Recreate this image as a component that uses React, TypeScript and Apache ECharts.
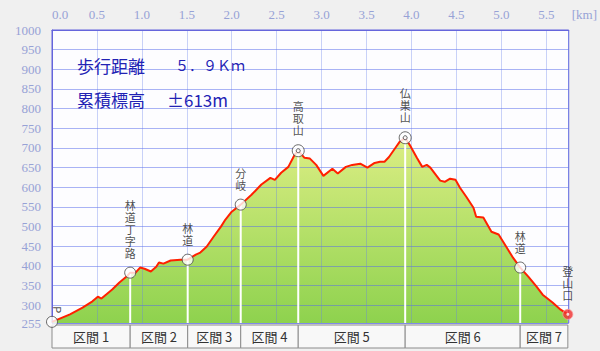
import React, { useEffect, useRef } from 'react';
import * as echarts from 'echarts';

// Elevation profile (distance in km, elevation in m)
const distKm = [0, 0.2, 0.34, 0.45, 0.51, 0.55, 0.6, 0.67, 0.75, 0.83, 0.87, 0.93, 0.98, 1.03, 1.1, 1.16, 1.19, 1.24, 1.32, 1.43, 1.51, 1.6, 1.65, 1.72, 1.8, 1.88, 1.93, 2.0, 2.1, 2.22, 2.33, 2.43, 2.48, 2.55, 2.63, 2.7, 2.74, 2.81, 2.87, 2.94, 3.02, 3.12, 3.18, 3.27, 3.34, 3.43, 3.51, 3.59, 3.65, 3.7, 3.75, 3.82, 3.87, 3.93, 3.98, 4.06, 4.12, 4.17, 4.21, 4.32, 4.37, 4.43, 4.49, 4.54, 4.61, 4.69, 4.72, 4.8, 4.89, 4.97, 5.06, 5.13, 5.21, 5.3, 5.39, 5.46, 5.57, 5.66, 5.74];
const elevM = [258, 277, 294, 310, 322, 317, 327, 340, 358, 373, 383, 383, 396, 393, 386, 398, 409, 406, 414, 416, 416, 429, 434, 449, 475, 500, 518, 538, 556, 581, 607, 624, 619, 637, 652, 683, 693, 675, 673, 657, 629, 647, 635, 652, 657, 660, 650, 662, 665, 665, 677, 700, 716, 726, 708, 675, 652, 657, 650, 617, 614, 622, 619, 599, 576, 548, 525, 523, 487, 480, 447, 421, 396, 373, 348, 327, 307, 289, 277];

// Waypoints
const wpNames = ['P', '林道丁字路', '林道', '分岐', '高取山', '仏巣山', '林道', '登山口'];
const wpKm = [0, 0.87, 1.51, 2.1, 2.74, 3.93, 5.21, 5.74];
const wpElev = [258, 383, 416, 556, 693, 726, 396, 277];
const wpKind = ['start', 'point', 'point', 'point', 'peak', 'peak', 'point', 'end'];

// Sections between waypoints
const sectionNames = ['区間 1', '区間 2', '区間 3', '区間 4', '区間 5', '区間 6', '区間 7'];

// Axis labels
const yLabelValues = [255, 300, 350, 400, 450, 500, 550, 600, 650, 700, 750, 800, 850, 900, 950, 1000];

// Summary text
const summaryLabels = ['歩行距離', '累積標高'];
const summaryValues = ['５．９Ｋｍ', '±613m'];

const JP = '"Noto Sans CJK JP", sans-serif';
const AXIS_FONT = '"Liberation Serif", serif';

export default function App() {
  const ref = useRef<HTMLDivElement>(null);

  useEffect(() => {
    document.body.style.margin = '0';
    const chart = echarts.init(ref.current!, null, { renderer: 'svg' });
    const profile = distKm.map((d, i) => [d, elevM[i]]);
    const axisColor = '#97a2d6';
    const borderBlue = '#6565dc';

    const wpData = wpKm.map((k, i) => {
      const kind = wpKind[i];
      const name = wpNames[i];
      return {
        value: [k, wpElev[i]],
        name,
        symbolSize: kind === 'peak' ? 12 : kind === 'end' ? 10 : 11,
        itemStyle:
          kind === 'end'
            ? { color: '#f23030', borderColor: '#f6a0a0', borderWidth: 1 }
            : { color: '#ffffff', borderColor: '#444444', borderWidth: 1 },
        label: {
          show: true,
          position: 'top',
          distance: kind === 'start' ? 6 : 8,
          rotate: kind === 'start' ? -90 : 0,
          fontSize: 11,
          lineHeight: 12,
          color: '#222222',
          fontFamily: JP,
          formatter: kind === 'start' ? name : name.split('').join('\n'),
        },
      };
    });
    const peakInner = wpKm
      .map((k, i) => [k, wpElev[i], i])
      .filter((d) => wpKind[d[2]] === 'peak')
      .map((d) => [d[0], d[1]]);
    const endInner = wpKm
      .map((k, i) => [k, wpElev[i], i])
      .filter((d) => wpKind[d[2]] === 'end')
      .map((d) => [d[0], d[1]]);
    const dropLines = wpKm
      .map((k, i) => [k, wpElev[i], i])
      .filter((d) => wpKind[d[2]] === 'point' || wpKind[d[2]] === 'peak')
      .map((d) => [d[0], d[1]]);
    const sections = sectionNames.map((n, i) => [wpKm[i], wpKm[i + 1], i]);

    const graphics: any[] = [];
    summaryLabels.forEach((t, i) => {
      const y = i === 0 ? 65 : 99;
      graphics.push({
        type: 'text',
        x: 77,
        y,
        z: 10,
        style: { text: t, fill: '#2222b4', font: `17px ${JP}`, align: 'left', verticalAlign: 'middle' },
      });
      graphics.push({
        type: 'text',
        x: i === 0 ? 175 : 167,
        y,
        z: 10,
        style: {
          text: summaryValues[i],
          fill: '#2222b4',
          font: i === 0 ? `14px ${JP}` : `17px ${JP}`,
          align: 'left',
          verticalAlign: 'middle',
        },
      });
    });

    chart.setOption({
      animation: false,
      backgroundColor: '#f0f0f0',
      grid: {
        left: 52,
        right: 27,
        top: 30,
        bottom: 28,
        show: true,
        backgroundColor: '#fdfdff',
        borderColor: borderBlue,
        borderWidth: 1,
      },
      xAxis: {
        type: 'value',
        position: 'top',
        min: 0,
        max: 5.75,
        interval: 0.5,
        z: 3,
        name: '[km]',
        nameLocation: 'end',
        nameGap: 3,
        nameTextStyle: {
          color: axisColor,
          fontFamily: AXIS_FONT,
          fontSize: 13,
          verticalAlign: 'bottom',
          padding: [0, 0, 9, 0],
        },
        axisLine: { show: true, lineStyle: { color: borderBlue } },
        axisTick: { show: false },
        axisLabel: {
          color: axisColor,
          fontFamily: AXIS_FONT,
          fontSize: 13,
          margin: 9,
          showMaxLabel: false,
          alignMinLabel: 'left',
          formatter: (v: number) => v.toFixed(1),
        },
        splitLine: { show: true, lineStyle: { color: 'rgba(100,125,235,0.35)', width: 1 } },
      },
      yAxis: {
        type: 'value',
        min: 255,
        max: 1000,
        z: 3,
        axisLine: { show: true, lineStyle: { color: borderBlue } },
        axisTick: { show: false, customValues: yLabelValues },
        axisLabel: {
          customValues: yLabelValues,
          color: axisColor,
          fontFamily: AXIS_FONT,
          fontSize: 13,
          margin: 11,
          formatter: (v: number) => String(Math.round(v)),
        },
        splitLine: { show: true, lineStyle: { color: 'rgba(85,105,235,0.5)', width: 1 } },
      },
      graphic: graphics,
      series: [
        {
          type: 'line',
          data: profile,
          symbol: 'none',
          silent: true,
          z: 1,
          lineStyle: { width: 0 },
          areaStyle: {
            opacity: 1,
            color: new echarts.graphic.LinearGradient(0, 0, 0, 1, [
              { offset: 0, color: '#dcee84' },
              { offset: 1, color: '#8ed24e' },
            ]),
          },
        },
        {
          type: 'custom',
          data: dropLines,
          z: 4,
          silent: true,
          renderItem: (params: any, api: any) => {
            const top = api.coord([api.value(0), api.value(1)]);
            const bot = api.coord([api.value(0), 255]);
            return {
              type: 'line',
              shape: { x1: top[0], y1: top[1], x2: bot[0], y2: bot[1] },
              style: { stroke: '#ffffff', lineWidth: 2 },
            };
          },
        },
        {
          type: 'line',
          data: profile,
          symbol: 'none',
          z: 5,
          lineStyle: { color: '#ff2000', width: 2 },
        },
        {
          type: 'scatter',
          data: wpData,
          z: 6,
          clip: false,
        },
        {
          type: 'scatter',
          data: peakInner,
          z: 7,
          symbolSize: 4,
          clip: false,
          itemStyle: { color: '#ffffff', borderColor: '#333333', borderWidth: 1 },
        },
        {
          type: 'scatter',
          data: endInner,
          z: 7,
          symbolSize: 3,
          clip: false,
          itemStyle: { color: '#ffffff' },
        },
        {
          type: 'custom',
          data: sections,
          z: 6,
          clip: false,
          silent: true,
          renderItem: (params: any, api: any) => {
            const p0 = api.coord([api.value(0), 255]);
            const p1 = api.coord([api.value(1), 255]);
            const idx = api.value(2);
            const y0 = p0[1] + 2;
            const h = 23;
            return {
              type: 'group',
              children: [
                {
                  type: 'rect',
                  shape: { x: p0[0], y: y0, width: p1[0] - p0[0], height: h },
                  style: { fill: '#f8f8f8', stroke: '#8c8c8c', lineWidth: 1 },
                },
                {
                  type: 'text',
                  x: (p0[0] + p1[0]) / 2,
                  y: y0 + h / 2,
                  style: {
                    text: sectionNames[idx],
                    fill: '#333333',
                    font: `13px ${JP}`,
                    align: 'center',
                    verticalAlign: 'middle',
                  },
                },
              ],
            };
          },
        },
      ],
    });
    return () => chart.dispose();
  }, []);

  return <div ref={ref} style={{ position: 'fixed', left: 0, top: 0, width: 600, height: 351 }} />;
}
